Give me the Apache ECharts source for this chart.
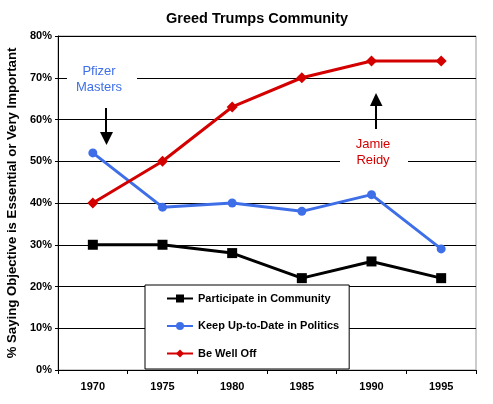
<!DOCTYPE html>
<html><head><meta charset="utf-8">
<script src="https://cdn.jsdelivr.net/npm/echarts@6/dist/echarts.min.js"></script>
<style>html,body{margin:0;padding:0;background:#fff}#c{width:493px;height:404px}</style>
</head><body><div id="c"></div>
<script>
const years = ['1970','1975','1980','1985','1990','1995'];
const participate = [30, 30, 28, 22, 26, 22];
const politics = [52, 39, 40, 38, 42, 29];
const wellOff = [40, 50, 63, 70, 74, 74];
const yTicks = [0, 10, 20, 30, 40, 50, 60, 70, 80];

const F = '"Liberation Sans", Arial, sans-serif';
const chart = echarts.init(document.getElementById('c'));
chart.setOption({
  animation: false,
  backgroundColor: '#fff',
  title: { text: 'Greed Trumps Community', left: 252, textAlign: 'center', top: 6,
    textStyle: { fontFamily: F, fontWeight: 'bold', fontSize: 14.5, color: '#000' } },
  grid: { left: 58, right: 17, top: 36, bottom: 34, show: true, borderColor: '#999', borderWidth: 1,
    containLabel: false, outerBoundsMode: 'none' },
  xAxis: { type: 'category', data: years, boundaryGap: true,
    axisLine: { lineStyle: { color: '#000', width: 1 } },
    axisTick: { show: true, length: 4, lineStyle: { color: '#000' } },
    axisLabel: { fontFamily: F, fontWeight: 'bold', fontSize: 11, color: '#000', margin: 11 } },
  yAxis: { type: 'value', min: 0, max: 80, interval: 10,
    name: '% Saying Objective is Essential or Very Important', nameLocation: 'middle', nameGap: 37,
    nameTextStyle: { fontFamily: F, fontWeight: 'bold', fontSize: 13.2, color: '#000' },
    axisLine: { show: true, lineStyle: { color: '#000' } },
    axisTick: { show: true, length: 3, lineStyle: { color: '#000' } },
    axisLabel: { fontFamily: F, fontWeight: 'bold', fontSize: 11, color: '#000', margin: 6,
      formatter: v => yTicks.includes(v) ? v + '%' : '' },
    splitLine: { lineStyle: { color: '#000', width: 1 } } },
  legend: { orient: 'vertical', left: 145, top: 285, width: 207,
    padding: [8, 10, 10, 21], itemGap: 16.5, itemWidth: 26, itemHeight: 10,
    backgroundColor: '#fff', borderColor: '#000', borderWidth: 1,
    textStyle: { fontFamily: F, fontWeight: 'bold', fontSize: 11, color: '#000', width: 170 },
    data: ['Participate in Community', 'Keep Up-to-Date in Politics', 'Be Well Off'] },
  series: [
    { name: 'Participate in Community', type: 'line', data: participate, symbol: 'rect', symbolSize: 10,
      lineStyle: { color: '#000', width: 3 }, itemStyle: { color: '#000' } },
    { name: 'Keep Up-to-Date in Politics', type: 'line', data: politics, symbol: 'circle', symbolSize: 9,
      lineStyle: { color: '#3f6fe8', width: 3 }, itemStyle: { color: '#3f6fe8' } },
    { name: 'Be Well Off', type: 'line', data: wellOff, symbol: 'diamond', symbolSize: 11,
      lineStyle: { color: '#d40000', width: 3 }, itemStyle: { color: '#d40000' } }
  ],
  graphic: [
    { type: 'rect', shape: { x: 67, y: 60, width: 70, height: 37 }, style: { fill: '#fff' }, z: 50 },
    { type: 'text', x: 99, y: 79, z: 51, style: { text: 'Pfizer\nMasters', align: 'center', verticalAlign: 'middle',
      fill: '#3f6fe8', font: '13px ' + F, lineHeight: 16 } },
    { type: 'line', shape: { x1: 106, y1: 108, x2: 106, y2: 134 }, style: { stroke: '#000', lineWidth: 2 }, z: 51 },
    { type: 'polygon', shape: { points: [[100, 132], [113, 132], [106.5, 145]] }, style: { fill: '#000' }, z: 51 },
    { type: 'rect', shape: { x: 340, y: 134, width: 68, height: 36 }, style: { fill: '#fff' }, z: 50 },
    { type: 'text', x: 373, y: 152, z: 51, style: { text: 'Jamie\nReidy', align: 'center', verticalAlign: 'middle',
      fill: '#d40000', font: '13px ' + F, lineHeight: 16 } },
    { type: 'line', shape: { x1: 376, y1: 104, x2: 376, y2: 129 }, style: { stroke: '#000', lineWidth: 2 }, z: 51 },
    { type: 'polygon', shape: { points: [[370, 106], [382.5, 106], [376, 93]] }, style: { fill: '#000' }, z: 51 }
  ]
});
</script></body></html>
